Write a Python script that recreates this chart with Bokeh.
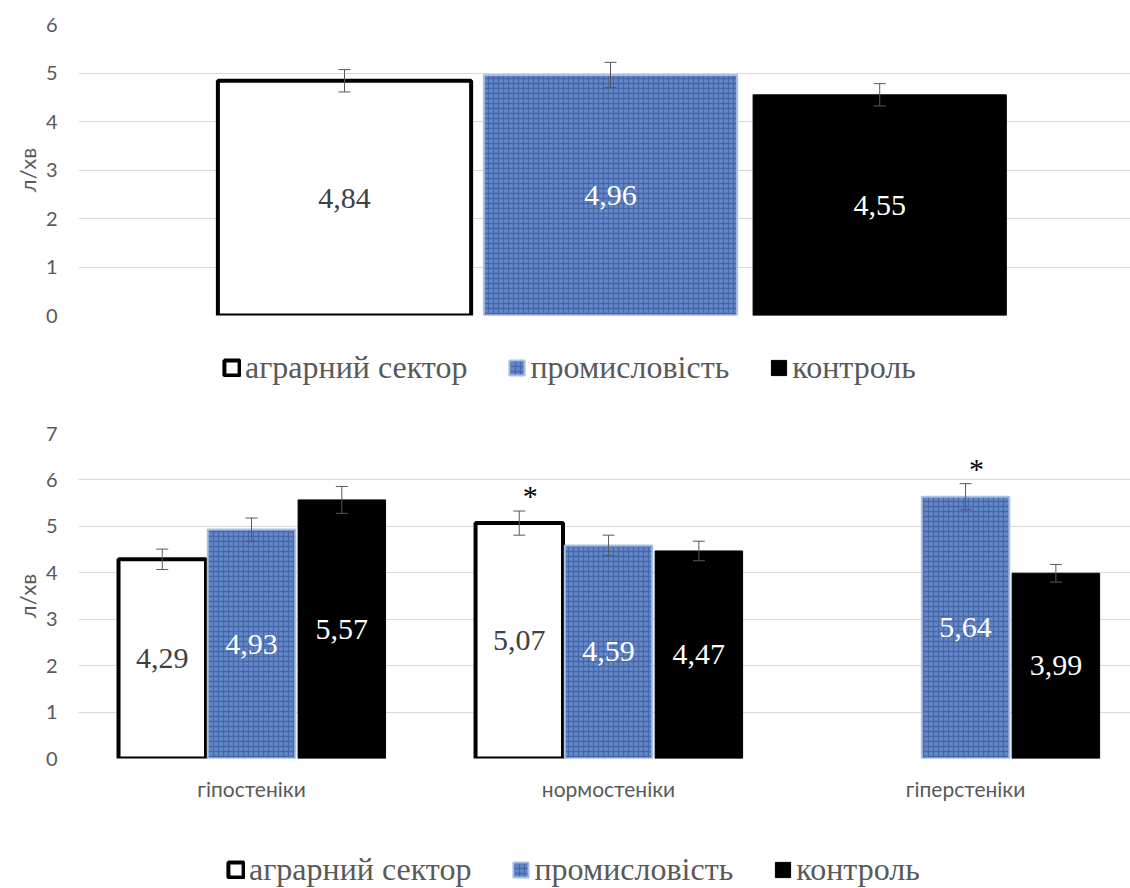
from bokeh.plotting import figure
from bokeh.models import (Range1d, FixedTicker, ColumnDataSource, Whisker, TeeHead,
                          Legend, LegendItem)
from bokeh.layouts import column
from bokeh.embed import file_html
from bokeh.resources import INLINE
from bokeh.core.properties import value

# ---------------- data ----------------
series = ["аграрний сектор", "промисловість", "контроль"]
y_title = "л/хв"

# top chart (all subjects)
top_agr = [4.84]
top_ind = [4.96]
top_ctl = [4.55]
top_err_agr = [0.23]
top_err_ind = [0.26]
top_err_ctl = [0.23]

# bottom chart (by body type)
groups = ["гіпостеніки", "нормостеніки", "гіперстеніки"]
bot_agr = [4.29, 5.07, None]
bot_ind = [4.93, 4.59, 5.64]
bot_ctl = [5.57, 4.47, 3.99]
bot_err_agr = [0.22, 0.26, None]
bot_err_ind = [0.25, 0.22, 0.28]
bot_err_ctl = [0.29, 0.21, 0.19]
bot_star_agr = [False, True, False]
bot_star_ind = [False, False, True]
bot_star_ctl = [False, False, False]

# ---------------- styles ----------------
GREY = "#595959"
W = 1130
SERIF = "Liberation Serif"
styles = [
    dict(fill_color="white", line_color="black", line_width=4, label_color="#404040",
         hatch_pattern=None),
    dict(fill_color="#6588cb", line_color="#a9c0e6", line_width=2, label_color="white",
         hatch_pattern="+", hatch_color="#28467f", hatch_alpha=0.5, hatch_scale=5,
         hatch_weight=1.3),
    dict(fill_color="black", line_color="black", line_width=1, label_color="white",
         hatch_pattern=None),
]
offsets = [-0.25, 0.0, 0.253]


def fmt(v):
    return f"{v:.2f}".replace(".", ",")


def bar_kw(st):
    kw = dict(fill_color=st["fill_color"], line_color=st["line_color"],
              line_width=st["line_width"])
    if st["hatch_pattern"]:
        kw.update(hatch_pattern=st["hatch_pattern"], hatch_color=st["hatch_color"],
                  hatch_alpha=st["hatch_alpha"], hatch_scale=st["hatch_scale"],
                  hatch_weight=st["hatch_weight"])
    return kw


def make_chart(vals, errs, stars, n_groups, x_start, x_end, y_max, height,
               border_top, border_bottom, bar_w, cat_labels):
    p = figure(width=W, height=height, output_backend="svg", toolbar_location=None,
               x_range=Range1d(x_start, x_end), y_range=Range1d(0, y_max),
               min_border_left=78, min_border_right=0,
               min_border_top=border_top, min_border_bottom=border_bottom,
               x_axis_location="below" if cat_labels else None)
    p.outline_line_color = None
    p.background_fill_color = "white"
    p.border_fill_color = "white"

    sources = []
    for s, (v_list, e_list, st_list) in enumerate(zip(vals, errs, stars)):
        st = styles[s]
        xs, tops, mids, labs, ups, los, star_x, star_y = [], [], [], [], [], [], [], []
        for i in range(n_groups):
            v = v_list[i]
            if v is None:
                continue
            e = e_list[i]
            xs.append(i + offsets[s])
            tops.append(v)
            mids.append(v / 2)
            labs.append(fmt(v))
            ups.append(v + e)
            los.append(v - e)
            if st_list[i]:
                star_x.append(i + offsets[s])
                star_y.append(v + e)
        src = ColumnDataSource(dict(x=xs, top=tops, mid=mids, lab=labs, up=ups, lo=los))
        sources.append(src)
        p.vbar(x="x", top="top", bottom=0, width=bar_w, source=src, **bar_kw(st))
        w = Whisker(base="x", upper="up", lower="lo", source=src, level="annotation",
                    line_color=GREY, line_width=1,
                    upper_head=TeeHead(size=12, line_color=GREY, line_width=1),
                    lower_head=TeeHead(size=12, line_color=GREY, line_width=1))
        p.add_layout(w)
        p.text(x="x", y="mid", text="lab", source=src, text_align="center",
               text_baseline="middle", text_font=value(SERIF),
               text_font_size="30px", text_color=st["label_color"])
        if star_x:
            ssrc = ColumnDataSource(dict(x=star_x, y=star_y, t=["*"] * len(star_x)))
            p.text(x="x", y="y", text="t", source=ssrc, text_align="center",
                   text_baseline="bottom", x_offset=11, y_offset=1,
                   text_font=value(SERIF), text_font_size="30px",
                   text_color="black")

    # axes
    p.yaxis.ticker = FixedTicker(ticks=list(range(0, y_max + 1)))
    p.yaxis.axis_line_color = None
    p.yaxis.major_tick_line_color = None
    p.yaxis.minor_tick_line_color = None
    p.yaxis.major_tick_out = 0
    p.yaxis.major_tick_in = 0
    p.yaxis.major_label_text_font = "Lato"
    p.yaxis.major_label_text_font_size = "20px"
    p.yaxis.major_label_text_color = GREY
    p.yaxis.major_label_standoff = 21
    p.yaxis.axis_label = y_title
    p.yaxis.axis_label_text_font = "Lato"
    p.yaxis.axis_label_text_font_size = "22px"
    p.yaxis.axis_label_text_font_style = "normal"
    p.yaxis.axis_label_text_color = GREY
    p.yaxis.axis_label_standoff = 2
    p.xgrid.visible = False
    p.ygrid.grid_line_color = "#d9d9d9"
    p.ygrid.grid_line_width = 1

    if cat_labels:
        p.xaxis.ticker = FixedTicker(ticks=list(range(n_groups)))
        p.xaxis.major_label_overrides = {i: g for i, g in enumerate(cat_labels)}
        p.xaxis.axis_line_color = None
        p.xaxis.major_tick_line_color = None
        p.xaxis.minor_tick_line_color = None
        p.xaxis.major_tick_out = 0
        p.xaxis.major_tick_in = 0
        p.xaxis.major_label_text_font = "Lato"
        p.xaxis.major_label_text_font_size = "21px"
        p.xaxis.major_label_text_color = GREY
        p.xaxis.major_label_standoff = 17
    return p, sources


def make_legend(height, lx, ly, bar_w, sources):
    # legend strip: same bar series as hidden renderers (only their legend entries show)
    lp = figure(width=W, height=height, output_backend="svg", toolbar_location=None,
                x_range=Range1d(0, 1), y_range=Range1d(0, 1),
                min_border_left=78, min_border_right=0, min_border_top=0,
                min_border_bottom=0, x_axis_location=None, y_axis_location=None)
    lp.outline_line_color = None
    lp.xgrid.visible = False
    lp.ygrid.visible = False
    rs = []
    for s in range(3):
        r = lp.vbar(x="x", top="top", bottom=0, width=bar_w, source=sources[s],
                    **bar_kw(styles[s]))
        r.visible = False
        rs.append(r)
    legend = Legend(items=[LegendItem(label=series[s], renderers=[rs[s]]) for s in range(3)],
                    orientation="horizontal", location=(lx, ly),
                    padding=0, margin=0, spacing=40, label_standoff=4,
                    glyph_width=19, glyph_height=19,
                    label_text_font=SERIF, label_text_font_size="32px",
                    label_text_color=GREY, border_line_color=None,
                    background_fill_alpha=0, click_policy="none",
                    inactive_fill_alpha=0)
    lp.add_layout(legend, "center")
    return lp


p_top, src_top = make_chart([top_agr, top_ind, top_ctl],
                            [top_err_agr, top_err_ind, top_err_ctl],
                            [[False], [False], [False]], 1, -0.5, 0.4887, 6, 328,
                            24, 13, 0.238, None)
leg_top = make_legend(90, 144, 32, 0.238, src_top)

p_bot, src_bot = make_chart([bot_agr, bot_ind, bot_ctl],
                            [bot_err_agr, bot_err_ind, bot_err_ctl],
                            [bot_star_agr, bot_star_ind, bot_star_ctl], 3, -0.4846, 2.462,
                            7, 420, 15, 80, 0.245, groups)
leg_bot = make_legend(50, 148, 0, 0.245, src_bot)

layout = column(p_top, leg_top, p_bot, leg_bot, spacing=0)
open("out.html", "w").write(file_html(layout, INLINE))
